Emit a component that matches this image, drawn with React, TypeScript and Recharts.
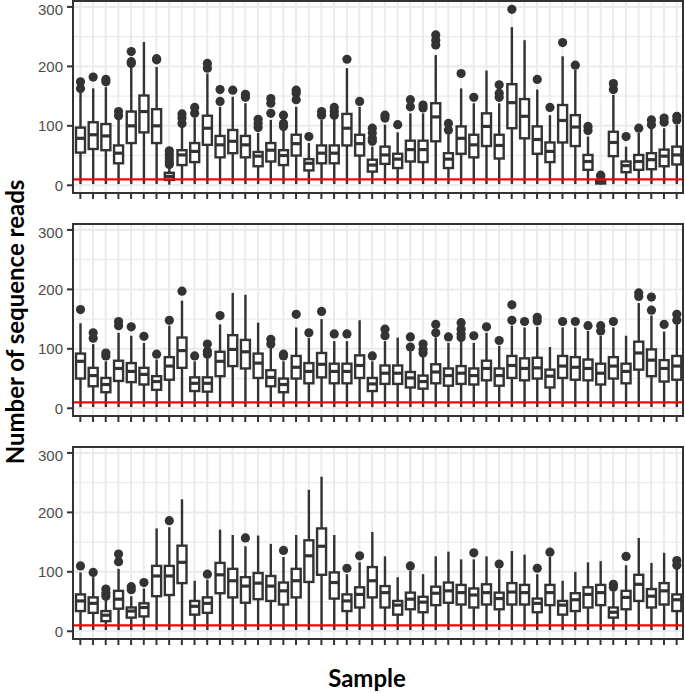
import React from 'react'
import { ComposedChart, Bar, XAxis, YAxis, CartesianGrid, ReferenceLine } from 'recharts'

const INK = '#333333'
const sampleIds = Array.from({ length: 48 }, (_, i) => `S${i + 1}`)

// panel 1
const p1Lo = [2, 2, 2, 2, 2, 2, 2, 1, 2, 2, 2, 2, 2, 2, 2, 2, 2, 2, 2, 2, 2, 2, 2, 2, 2, 2, 2, 2, 2, 2, 2, 2, 2, 2, 2, 2, 2, 2, 2, 2, 2, 1, 2, 2, 2, 2, 2, 2]
const p1Q1 = [55, 61, 59, 37, 71, 89, 71, 9, 34, 39, 68, 47, 54, 47, 32, 40, 34, 50, 25, 37, 37, 67, 50, 23, 36, 29, 40, 39, 74, 29, 53, 47, 66, 45, 96, 79, 53, 39, 72, 66, 26, 3, 49, 22, 26, 27, 32, 35]
const p1Med = [79, 85, 83, 54, 100, 124, 100, 15, 51, 57, 96, 68, 74, 68, 49, 59, 50, 70, 37, 54, 54, 96, 70, 34, 51, 44, 60, 60, 115, 44, 79, 68, 99, 67, 139, 116, 77, 57, 109, 98, 40, 6, 72, 33, 40, 43, 49, 51]
const p1Q3 = [97, 106, 103, 67, 124, 151, 128, 21, 59, 71, 117, 83, 93, 83, 56, 71, 59, 85, 44, 67, 67, 120, 85, 43, 65, 53, 75, 75, 138, 54, 99, 85, 121, 85, 170, 145, 99, 72, 135, 118, 51, 9, 90, 40, 51, 54, 60, 65]
const p1Hi = [158, 163, 165, 110, 199, 241, 199, 30, 99, 113, 188, 132, 149, 138, 88, 110, 93, 132, 71, 110, 113, 197, 132, 65, 102, 89, 121, 121, 219, 88, 163, 138, 193, 138, 266, 244, 161, 118, 217, 194, 82, 12, 152, 65, 88, 96, 96, 102]
const p1Out = [[163, 174], [182], [174, 178], [117, 124], [205, 208, 225], [], [211, 213], [35, 40, 46, 52, 58], [104, 113, 120], [121, 131], [197, 205], [141, 161], [160], [148, 153], [97, 104, 111], [121, 138, 146], [99, 104, 118], [144, 155, 160], [82], [118, 124], [118, 124, 131], [212], [141], [74, 79, 88, 96], [113, 118], [102], [132, 144], [130, 135], [236, 244, 253], [93, 104], [188], [148], [], [148, 155, 169], [296], [], [178], [131], [240], [202], [92, 99], [15, 17], [161, 171], [82], [96], [102, 110], [106, 113], [110, 116]]

// panel 2
const p2Lo = [2, 2, 2, 2, 2, 2, 2, 2, 2, 2, 2, 2, 2, 2, 2, 2, 2, 2, 2, 2, 2, 2, 2, 2, 2, 2, 2, 2, 2, 2, 2, 2, 2, 2, 2, 2, 2, 2, 2, 2, 2, 2, 2, 2, 2, 2, 2, 2]
const p2Q1 = [50, 37, 27, 46, 44, 40, 31, 48, 68, 29, 28, 54, 71, 67, 51, 37, 27, 50, 42, 52, 42, 42, 51, 29, 41, 41, 35, 33, 42, 38, 41, 40, 47, 38, 51, 47, 50, 35, 51, 48, 47, 40, 50, 42, 65, 54, 45, 48]
const p2Med = [79, 55, 40, 67, 62, 57, 45, 71, 97, 42, 42, 79, 99, 95, 76, 52, 40, 69, 62, 74, 62, 62, 72, 41, 59, 59, 51, 45, 61, 55, 59, 55, 67, 55, 72, 67, 68, 54, 71, 69, 67, 59, 71, 62, 93, 81, 67, 71]
const p2Q3 = [92, 68, 51, 80, 76, 68, 54, 86, 119, 52, 52, 95, 123, 115, 92, 64, 50, 88, 76, 93, 75, 75, 89, 51, 72, 72, 61, 55, 74, 67, 71, 67, 80, 67, 88, 84, 85, 65, 88, 86, 82, 75, 86, 75, 112, 99, 81, 88]
const p2Hi = [143, 108, 79, 127, 122, 110, 82, 139, 181, 79, 85, 141, 194, 191, 144, 102, 79, 136, 118, 150, 113, 113, 148, 79, 113, 119, 96, 88, 119, 110, 113, 110, 127, 105, 139, 136, 137, 103, 136, 136, 130, 122, 136, 122, 177, 156, 129, 141]
const p2Out = [[166], [118, 127], [88, 93], [139, 146], [137], [121], [91], [148], [197], [88], [91, 96, 108], [156], [], [], [], [108, 116], [88, 91], [158], [127], [163], [125], [125], [], [88], [122, 133], [], [103, 120], [93, 99, 108], [127, 141], [120], [119, 125, 133, 144], [122], [137], [114], [148, 174], [146], [147, 153], [], [146], [146], [139], [130, 139], [146], [], [188, 194], [165, 187], [141], [148, 158]]

// panel 3
const p3Lo = [2, 2, 2, 2, 2, 2, 2, 2, 2, 2, 2, 2, 2, 2, 2, 2, 2, 2, 2, 2, 2, 2, 2, 2, 2, 2, 2, 2, 2, 2, 2, 2, 2, 2, 2, 2, 2, 2, 2, 2, 2, 2, 2, 2, 2, 2, 2, 2]
const p3Q1 = [34, 31, 17, 38, 23, 25, 59, 61, 81, 28, 31, 64, 57, 48, 54, 51, 45, 57, 83, 95, 55, 34, 40, 57, 40, 28, 37, 32, 44, 48, 45, 40, 45, 37, 45, 45, 32, 44, 28, 34, 40, 44, 23, 37, 51, 40, 45, 34]
const p3Med = [51, 47, 27, 54, 34, 40, 93, 93, 116, 42, 47, 95, 85, 76, 81, 76, 68, 85, 127, 143, 82, 51, 62, 85, 65, 44, 54, 49, 64, 68, 65, 61, 65, 55, 66, 65, 47, 65, 44, 53, 62, 65, 32, 57, 79, 59, 68, 53]
const p3Q3 = [62, 57, 34, 68, 40, 47, 110, 110, 144, 51, 57, 115, 105, 91, 98, 93, 82, 105, 153, 173, 99, 62, 74, 108, 76, 51, 65, 58, 75, 82, 78, 72, 79, 65, 81, 78, 55, 78, 51, 64, 74, 78, 40, 68, 95, 71, 81, 62]
const p3Hi = [99, 91, 54, 105, 59, 72, 173, 175, 222, 85, 87, 171, 162, 143, 161, 147, 125, 162, 238, 260, 162, 96, 116, 167, 126, 91, 102, 96, 126, 134, 121, 121, 126, 105, 135, 129, 96, 125, 85, 100, 116, 118, 66, 111, 157, 115, 132, 105]
const p3Out = [[110], [99], [59, 64, 71], [117, 130], [70, 75], [82], [], [186], [], [], [96], [], [], [157], [], [], [136], [], [], [], [], [106], [127], [], [], [], [110], [], [], [], [], [132], [], [113], [], [], [106], [133], [], [], [], [], [74, 79], [126], [], [], [], [111, 119]]

const yTicks = [0, 100, 200, 300]
const minorTicks = [50, 150, 250]
const yDomain = [-13, 310]
const cutoff = 10

function buildRows(lo: number[], q1: number[], med: number[], q3: number[], hi: number[], out: number[][]) {
  return sampleIds.map((name, i) => ({
    name,
    range: [lo[i], hi[i]],
    lo: lo[i],
    q1: q1[i],
    med: med[i],
    q3: q3[i],
    hi: hi[i],
    out: out[i],
  }))
}

const panels = [
  buildRows(p1Lo, p1Q1, p1Med, p1Q3, p1Hi, p1Out),
  buildRows(p2Lo, p2Q1, p2Med, p2Q3, p2Hi, p2Out),
  buildRows(p3Lo, p3Q1, p3Med, p3Q3, p3Hi, p3Out),
]

// draws whisker, box, median and outliers from the bar's lo..hi pixel span
const BoxShape = (props: any) => {
  const { x, y, width, height, payload } = props
  if (!payload) return null
  const top = height >= 0 ? y : y + height
  const h = Math.abs(height)
  const span = payload.hi - payload.lo
  const py = (v: number) => top + ((payload.hi - v) / span) * h
  const cx = x + width / 2
  return (
    <g>
      <line x1={cx} x2={cx} y1={py(payload.hi)} y2={py(payload.lo)} stroke={INK} strokeWidth={2.4} />
      <rect x={x} y={py(payload.q3)} width={width} height={py(payload.q1) - py(payload.q3)} fill="#fff" stroke={INK} strokeWidth={2.4} />
      <line x1={x} x2={x + width} y1={py(payload.med)} y2={py(payload.med)} stroke={INK} strokeWidth={3.2} />
      {payload.out.map((v: number, k: number) => (
        <circle key={k} cx={cx} cy={py(v)} r={4.6} fill={INK} />
      ))}
    </g>
  )
}

const EmptyTick = () => <g />

const PLOT_H = 192
const panelTops = [1, 224, 447]

function Panel({ data, top }: { data: any[]; top: number }) {
  return (
    <div style={{ position: 'absolute', left: 0, top }}>
      <ComposedChart width={685} height={PLOT_H + 10} data={data} margin={{ top: 0, right: 2, left: 0, bottom: 0 }}>
        <CartesianGrid yAxisId="minor" vertical={false} stroke="#EBEBEB" strokeWidth={1.2} />
        <CartesianGrid yAxisId="main" stroke="#EBEBEB" strokeWidth={2} />
        <XAxis
          dataKey="name"
          interval={0}
          tick={EmptyTick}
          tickSize={6}
          tickLine={{ stroke: INK, strokeWidth: 2 }}
          axisLine={false}
          height={10}
          padding={{ left: 1, right: 0 }}
        />
        <YAxis
          yAxisId="main"
          domain={yDomain}
          ticks={yTicks}
          allowDataOverflow
          width={73}
          tickSize={6}
          tickMargin={4}
          tickLine={{ stroke: INK, strokeWidth: 2 }}
          axisLine={false}
          tick={{ fill: '#4D4D4D', fontSize: 15, fontFamily: 'Liberation Sans, Arial, sans-serif' }}
        />
        <YAxis
          yAxisId="minor"
          orientation="right"
          domain={yDomain}
          ticks={minorTicks}
          allowDataOverflow
          width={0}
          tick={EmptyTick}
          tickLine={false}
          axisLine={false}
        />
        <Bar yAxisId="main" dataKey="range" barSize={9} shape={BoxShape} isAnimationActive={false} />
        <ReferenceLine yAxisId="main" y={cutoff} stroke="#FF0000" strokeWidth={2.2} />
      </ComposedChart>
      <div
        style={{
          position: 'absolute',
          left: 72,
          top: -1,
          width: 612,
          height: PLOT_H + 2,
          border: `2px solid ${INK}`,
          boxSizing: 'border-box',
          pointerEvents: 'none',
        }}
      />
    </div>
  )
}

export default function App() {
  return (
    <div style={{ position: 'absolute', left: 0, top: 0, width: 685, height: 693, background: '#fff', overflow: 'hidden' }}>
      {panels.map((rows, i) => (
        <Panel key={i} data={rows} top={panelTops[i]} />
      ))}
      <svg width={32} height={693} style={{ position: 'absolute', left: 0, top: 0 }}>
        <text
          x={14}
          y={322}
          transform="rotate(-90, 14, 322)"
          textAnchor="middle"
          dominantBaseline="central"
          fontFamily="Lato, sans-serif"
          fontWeight={700}
          fontSize={24}
          fill="#000"
        >
          Number of sequence reads
        </text>
      </svg>
      <div
        style={{
          position: 'absolute',
          left: 267,
          top: 666,
          width: 200,
          height: 24,
          lineHeight: '24px',
          textAlign: 'center',
          fontFamily: 'Lato, sans-serif',
          fontWeight: 700,
          fontSize: 24,
          color: '#000',
        }}
      >
        Sample
      </div>
    </div>
  )
}
